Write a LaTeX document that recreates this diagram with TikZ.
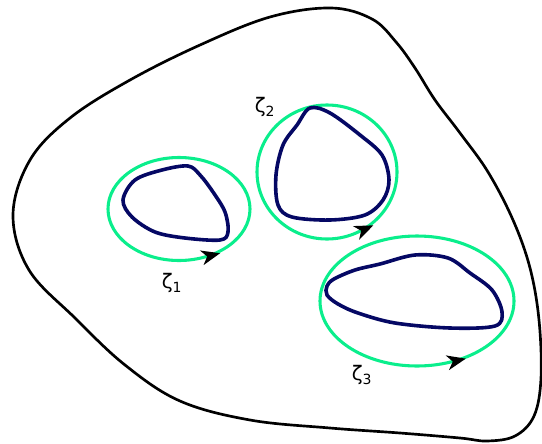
\documentclass[tikz,border=0pt]{standalone}
\usepackage{fontspec}
\setmainfont{DejaVu Sans}
\usetikzlibrary{arrows.meta,decorations.markings}
\definecolor{loopgreen}{RGB}{10,238,140}
\definecolor{blobnavy}{RGB}{5,8,100}
\begin{document}
\begin{tikzpicture}[x=0.75pt,y=-0.75pt,
  contour/.style={line width=2pt,black},
  blob/.style={line width=2.7pt,blobnavy},
  zloop/.style={line width=2.3pt,loopgreen,postaction={decorate},
    decoration={markings,mark=at position #1 with {\arrow[black]{Stealth[reversed,length=14pt,width=11pt,inset=4pt]}}}},
  lbl/.style={font=\fontsize{15}{17}\selectfont}]
\useasboundingbox (0,0) rectangle (542,443);
% outer contour
\draw[contour] plot[smooth cycle,tension=0.6] coordinates {
  (331,8) (270,17) (200,45) (130,80) (70,118) (30,160) (13,215) (29,270)
  (75,318) (125,365) (180,401) (250,420) (330,428) (400,433) (460,438)
  (487,441) (515,436) (534,416) (541,378) (539,320) (530,268) (513,220)
  (488,172) (460,133) (435,100) (415,68) (396,42) (372,19)};
% small loops around the blobs
\draw[zloop=0.19] (179,209) ellipse (71 and 51.5);
\draw[zloop=0.18] (327,172) ellipse (70 and 67);
\draw[zloop=0.19] (417,301) ellipse (97 and 65);
% the blobs
\draw[blob] plot[smooth cycle,tension=0.55] coordinates {
  (123,200) (135,180) (162,170) (188,166) (200,175) (213,192) (225,212)
  (228,232) (220,240) (185,238) (155,232) (132,217)};
\draw[blob] plot[smooth cycle,tension=0.55] coordinates {
  (310,108) (330,113) (360,135) (382,155) (389,180) (383,200) (365,215)
  (330,220) (292,217) (278,205) (276,175) (283,145) (297,125)};
\draw[blob] plot[smooth cycle,tension=0.55] coordinates {
  (334,279) (355,270) (380,264) (415,255) (448,258) (470,273) (492,290)
  (502,312) (495,326) (450,328) (395,323) (358,313) (338,304) (327,295)
  (327,286)};
% labels
\node[lbl] (z1) at (172,283) {ζ\textsubscript{1}};
\node[lbl] (z2) at (265,107) {ζ\textsubscript{2}};
\node[lbl] (z3) at (362,375) {ζ\textsubscript{3}};
\end{tikzpicture}
\end{document}
